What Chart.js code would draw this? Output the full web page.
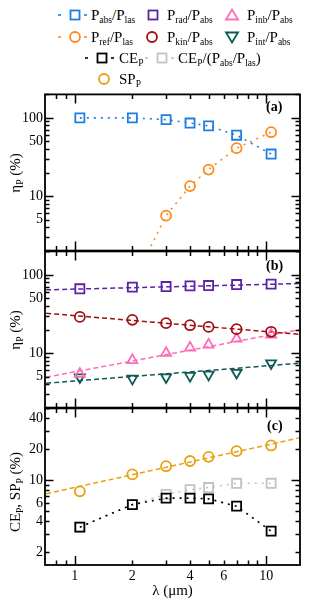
<!DOCTYPE html>
<html>
<head>
<meta charset="utf-8">
<script src="https://cdn.jsdelivr.net/npm/chart.js@4.4.1/dist/chart.umd.min.js"></script>
<style>
body { margin: 0; background: #fff; width: 309px; height: 601px; overflow: hidden; position: relative;
       font-family: "Liberation Serif", "Times New Roman", serif; color: #000; }
canvas { position: absolute; left: 0; }
.lg { position: absolute; font-size: 15px; line-height: 18px; white-space: nowrap; }
sub { font-size: 9.5px; vertical-align: -3px; line-height: 0; }
.yt { position: absolute; width: 140px; height: 18px; line-height: 18px; text-align: center;
      font-size: 15px; white-space: nowrap; transform: rotate(-90deg); }
.pl { position: absolute; font-weight: bold; font-size: 14px; line-height: 16px; }
</style>
</head>
<body>
<svg id="marks" width="309" height="92" style="position:absolute;left:0;top:0"></svg>
<canvas id="ca" width="309" height="177" style="top:84px"></canvas>
<canvas id="cb" width="309" height="177" style="top:241px"></canvas>
<canvas id="cc" width="309" height="203" style="top:398px"></canvas>
<div class="yt" style="left:-55px;top:164px">η<sub>P</sub> (%)</div>
<div class="yt" style="left:-55px;top:321px">η<sub>P</sub> (%)</div>
<div class="yt" style="left:-55px;top:483px">CE<sub>P</sub>, SP<sub>P</sub> (%)</div>
<div class="pl" style="left:266px;top:99px">(a)</div>
<div class="pl" style="left:266px;top:258px">(b)</div>
<div class="pl" style="left:267px;top:418px">(c)</div>
<script>
// wavelengths (um)
var lambda = [1.064, 2, 3, 4, 5, 7, 10.6];
var lambdaRef = [2, 3, 4, 5, 7, 10.6];

// panel (a)
var absPlas = [100, 100, 95, 86, 79, 60, 34.5];
var refPlas = [0.75, 5.6, 13.4, 21.8, 41, 65.6];

// panel (b)
var radAbs = [66.4, 69.8, 71, 72.4, 73.1, 75.3, 76.2];
var kinAbs = [29, 26.6, 24.1, 22.7, 21.6, 20.2, 18.7];
var inbAbs = [5.4, 8.1, 10, 11.7, 12.8, 15.2, 17.2];
var intAbs = [4.9, 4.7, 4.9, 5.1, 5.3, 5.6, 7.4];

// fit lines (ends at the x limits)
var fitX = [0.71, 15];
var radFit = [64.4, 77.6];
var kinFit = [32.3, 17.3];
var inbFit = [4.9, 20];
var intFit = [4.1, 7.4];

// panel (c)
var ceP = [3.5, 5.8, 6.7, 6.7, 6.6, 5.6, 3.2];
var ceNorm = [3.5, 5.8, 7.3, 8.1, 8.5, 9.35, 9.35];
var spP = [7.8, 11.4, 13.7, 15.4, 16.9, 19.2, 21.8];
var spFit = [7.4, 25.9];

// ticks
var xTicks = [0.8, 0.9, 1, 2, 3, 4, 5, 6, 7, 8, 9, 10];
var xLabels = [1, 2, 4, 6, 10];
var yTicksAB = [2, 3, 4, 5, 6, 7, 8, 9, 10, 20, 30, 40, 50, 60, 70, 80, 90, 100, 200];
var yLabelsAB = [5, 10, 50, 100];
var yTicksC = [2, 3, 4, 5, 6, 7, 8, 9, 10, 20, 30, 40, 50];
var yLabelsC = [2, 4, 6, 10, 20, 40];

var blue = '#1f7fe0', orange = '#ff8a1c', purple = '#5b22a8', darkred = '#9e1010',
    pink = '#ff6cb8', teal = '#0f5a55', gray = '#c2c2c2', gold = '#e8a010';

Chart.defaults.font.family = '"Liberation Serif", "Times New Roman", serif';
Chart.defaults.font.size = 14;
Chart.defaults.color = '#000';

function pts(xs, ys) {
    return xs.map(function(x, i) { return {x: x, y: ys[i]}; });
}

function isDecade(v) {
    var l = Math.log10(v);
    return Math.abs(l - Math.round(l)) < 1e-9;
}

var inwardTicks = {
    id: 'inwardTicks',
    afterDraw: function(chart) {
        var ctx = chart.ctx, a = chart.chartArea;
        var xs = chart.scales.x, ys = chart.scales.y;
        ctx.save();
        ctx.strokeStyle = '#000';
        ctx.lineWidth = 1.5;
        ctx.beginPath();
        xs.ticks.forEach(function(t) {
            var p = Math.round(xs.getPixelForValue(t.value)) + 0.5;
            var len = isDecade(t.value) ? 9 : 4.5;
            ctx.moveTo(p, a.bottom); ctx.lineTo(p, a.bottom - len);
            ctx.moveTo(p, a.top); ctx.lineTo(p, a.top + len);
        });
        ys.ticks.forEach(function(t) {
            var p = Math.round(ys.getPixelForValue(t.value)) + 0.5;
            var len = isDecade(t.value) ? 8.5 : 4.5;
            ctx.moveTo(a.left, p); ctx.lineTo(a.left + len, p);
            ctx.moveTo(a.right, p); ctx.lineTo(a.right - len, p);
        });
        ctx.stroke();
        ctx.lineWidth = 1.8;
        ctx.strokeRect(a.left, a.top, a.right - a.left, a.bottom - a.top);
        ctx.restore();
    }
};

function xScale(showLabels) {
    return {
        type: 'logarithmic', min: 0.71, max: 15,
        afterBuildTicks: function(s) { s.ticks = xTicks.map(function(v) { return {value: v}; }); },
        afterFit: function(s) { s.height = showLabels ? 36 : 0; },
        grid: {display: false, drawTicks: false},
        border: {display: false},
        ticks: {
            display: showLabels, autoSkip: false, maxRotation: 0, padding: 3,
            callback: function(v) { return xLabels.indexOf(v) >= 0 ? String(v) : ''; }
        },
        title: {display: showLabels, text: 'λ (μm)', font: {size: 15}, padding: {top: 0, bottom: 1}}
    };
}

function yScale(min, max, tickList, labelList) {
    return {
        type: 'logarithmic', min: min, max: max,
        afterBuildTicks: function(s) { s.ticks = tickList.map(function(v) { return {value: v}; }); },
        afterFit: function(s) { s.width = 45; },
        grid: {display: false, drawTicks: false},
        border: {display: false},
        ticks: {
            autoSkip: false, padding: 2,
            callback: function(v) { return labelList.indexOf(v) >= 0 ? String(v) : ''; }
        }
    };
}

function markerSet(xs, ys, color, style, extra) {
    var d = {
        data: pts(xs, ys), borderColor: color, backgroundColor: 'rgba(0,0,0,0)',
        pointStyle: style, pointRadius: style === 'rect' ? 6.4 : (style === 'circle' ? 5 : 5.8),
        pointBorderWidth: 1.8, pointBackgroundColor: 'rgba(0,0,0,0)', pointBorderColor: color,
        borderWidth: 1.6, showLine: false, clip: 0
    };
    for (var k in extra) d[k] = extra[k];
    return d;
}

function fitLine(ys, color) {
    return {
        data: pts(fitX, ys), borderColor: color, borderWidth: 1.5, borderDash: [5, 3],
        pointRadius: 0, showLine: true, clip: 0
    };
}

function baseOptions(showX, ymin, ymax, ticks, labels, padBottom) {
    return {
        responsive: false, animation: false, events: [],
        layout: {padding: {top: 10, bottom: padBottom, left: 0, right: 9}},
        plugins: {legend: {display: false}, tooltip: {enabled: false}},
        scales: {x: xScale(showX), y: yScale(ymin, ymax, ticks, labels)}
    };
}

new Chart(document.getElementById('ca'), {
    type: 'line',
    data: {datasets: [
        markerSet(lambda, absPlas, blue, 'rect', {showLine: true, borderDash: [2, 5]}),
        markerSet(lambdaRef, refPlas, orange, 'circle', {showLine: true, borderDash: [2, 5]})
    ]},
    options: baseOptions(false, 2, 200, yTicksAB, yLabelsAB, 10),
    plugins: [inwardTicks]
});

new Chart(document.getElementById('cb'), {
    type: 'line',
    data: {datasets: [
        markerSet(lambda, radAbs, purple, 'rect'),
        markerSet(lambda, kinAbs, darkred, 'circle'),
        markerSet(lambda, inbAbs, pink, 'triangle'),
        markerSet(lambda, intAbs, teal, 'triangle', {pointRotation: 180}),
        fitLine(radFit, purple),
        fitLine(kinFit, darkred),
        fitLine(inbFit, pink),
        fitLine(intFit, teal)
    ]},
    options: baseOptions(false, 2, 200, yTicksAB, yLabelsAB, 10),
    plugins: [inwardTicks]
});

new Chart(document.getElementById('cc'), {
    type: 'line',
    data: {datasets: [
        markerSet(lambda, ceP, '#000', 'rect', {showLine: true, borderDash: [2, 5]}),
        markerSet(lambda, ceNorm, gray, 'rect', {showLine: true, borderDash: [2, 5]}),
        markerSet(lambda, spP, gold, 'circle'),
        fitLine(spFit, gold)
    ]},
    options: baseOptions(true, 1.5, 50, yTicksC, yLabelsC, 0),
    plugins: [inwardTicks]
});

// legend (markers as svg, labels as html text)
var legendItems = [
    {x: 75, y: 15, color: blue, shape: 'rect', dashes: true, tx: 91, html: 'P<sub>abs</sub>/P<sub>las</sub>'},
    {x: 153, y: 15, color: purple, shape: 'rect', dashes: false, tx: 167, html: 'P<sub>rad</sub>/P<sub>abs</sub>'},
    {x: 232, y: 15, color: pink, shape: 'tri', dashes: false, tx: 247, html: 'P<sub>inb</sub>/P<sub>abs</sub>'},
    {x: 75, y: 37, color: orange, shape: 'circle', dashes: true, tx: 91, html: 'P<sub>ref</sub>/P<sub>las</sub>'},
    {x: 152, y: 37, color: darkred, shape: 'circle', dashes: false, tx: 167, html: 'P<sub>kin</sub>/P<sub>abs</sub>'},
    {x: 232, y: 37, color: teal, shape: 'itri', dashes: false, tx: 247, html: 'P<sub>int</sub>/P<sub>abs</sub>'},
    {x: 102, y: 58, color: '#000', shape: 'rect', dashes: true, tx: 119, html: 'CE<sub>P</sub>'},
    {x: 162, y: 58, color: gray, shape: 'rect', dashes: true, tx: 178, html: 'CE<sub>P</sub>/(P<sub>abs</sub>/P<sub>las</sub>)'},
    {x: 104, y: 79, color: gold, shape: 'circle', dashes: false, tx: 119, html: 'SP<sub>P</sub>'}
];

var svg = document.getElementById('marks');
var s = '';
legendItems.forEach(function(it) {
    var st = ' fill="none" stroke="' + it.color + '" stroke-width="1.8"';
    if (it.dashes) {
        s += '<line x1="' + (it.x - 17) + '" y1="' + it.y + '" x2="' + (it.x - 14) + '" y2="' + it.y + '" stroke="' + it.color + '" stroke-width="1.6"/>';
        s += '<line x1="' + (it.x + 9) + '" y1="' + it.y + '" x2="' + (it.x + 12) + '" y2="' + it.y + '" stroke="' + it.color + '" stroke-width="1.6"/>';
    }
    if (it.shape === 'rect') {
        s += '<rect x="' + (it.x - 4.5) + '" y="' + (it.y - 4.5) + '" width="9" height="9"' + st + '/>';
    } else if (it.shape === 'circle') {
        s += '<circle cx="' + it.x + '" cy="' + it.y + '" r="5"' + st + '/>';
    } else if (it.shape === 'tri') {
        s += '<polygon points="' + it.x + ',' + (it.y - 5.5) + ' ' + (it.x + 6) + ',' + (it.y + 4.5) + ' ' + (it.x - 6) + ',' + (it.y + 4.5) + '"' + st + '/>';
    } else {
        s += '<polygon points="' + it.x + ',' + (it.y + 5.5) + ' ' + (it.x + 6) + ',' + (it.y - 4.5) + ' ' + (it.x - 6) + ',' + (it.y - 4.5) + '"' + st + '/>';
    }
    var d = document.createElement('div');
    d.className = 'lg';
    d.style.left = it.tx + 'px';
    d.style.top = (it.y - 9) + 'px';
    d.innerHTML = it.html;
    document.body.appendChild(d);
});
svg.innerHTML = s;
</script>
</body>
</html>
